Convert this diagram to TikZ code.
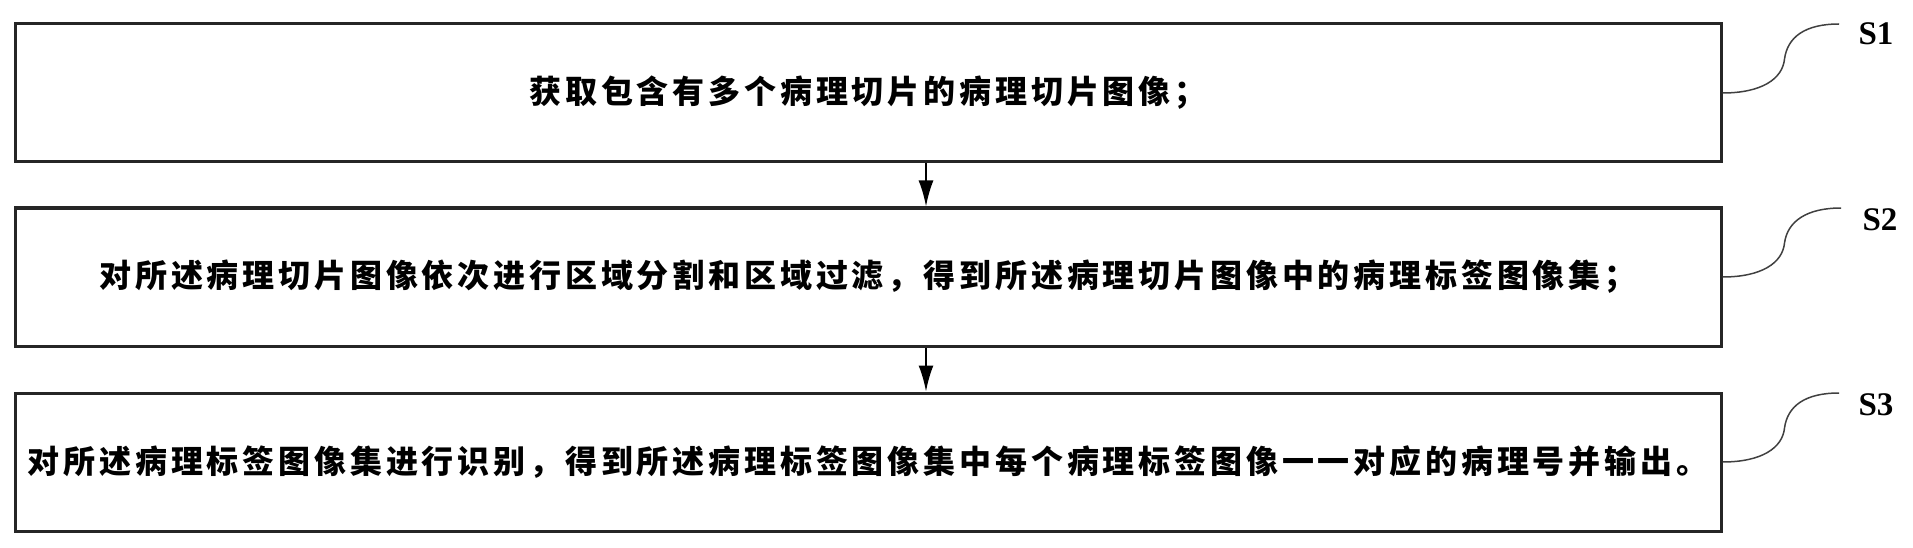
\documentclass[tikz,border=0pt]{standalone}
\usepackage{fontspec}
\setmainfont{Liberation Serif}
\newfontfamily\cjk[LetterSpace=12]{Noto Sans CJK SC}
\usetikzlibrary{arrows.meta}

\tikzset{
  procbox/.style={draw=black!85, line width=3pt, minimum width=1706pt, minimum height=138pt,
    inner sep=0pt, font=\cjk\bfseries\fontsize{32}{38}\selectfont},
  lead/.style={draw=black!75, line width=1.5pt},
  steplabel/.style={font=\bfseries\fontsize{33}{38}\selectfont, inner sep=0pt},
  flow/.style={line width=2pt, -{Latex[length=26pt,width=15pt]}}
}

\begin{document}
\begin{tikzpicture}[x=1pt,y=-1pt]
\useasboundingbox (0,0) rectangle (1913,548);

\node[procbox] (b1) at (868,93) {获取包含有多个病理切片的病理切片图像；};
\node[procbox] (b2) at (868,277) {对所述病理切片图像依次进行区域分割和区域过滤，得到所述病理切片图像中的病理标签图像集；};
\node[procbox] (b3) at (868,462) {对所述病理标签图像集进行识别，得到所述病理标签图像集中每个病理标签图像一一对应的病理号并输出。};

\draw[flow] (b1.south -| 926,0) -- (b2.north -| 926,0);
\draw[flow] (b2.south -| 926,0) -- (b3.north -| 926,0);

\coordinate (c1) at (1839,24);
\coordinate (c2) at (1841,208);
\coordinate (c3) at (1839,393);

\draw[lead] (b1.east) .. controls +(39,0) and +(-2,20) .. ++(62,-34) .. controls +(3,-22) and +(-34,0) .. (c1);
\draw[lead] (b2.east) .. controls +(39,0) and +(-2,20) .. ++(62,-34) .. controls +(3,-22) and +(-34,0) .. (c2);
\draw[lead] (b3.east) .. controls +(39,0) and +(-2,20) .. ++(62,-34) .. controls +(3,-22) and +(-34,0) .. (c3);

\node[steplabel] (s1) at (1876,34) {S1};
\node[steplabel] (s2) at (1880,220) {S2};
\node[steplabel] (s3) at (1876,405) {S3};

\end{tikzpicture}
\end{document}
